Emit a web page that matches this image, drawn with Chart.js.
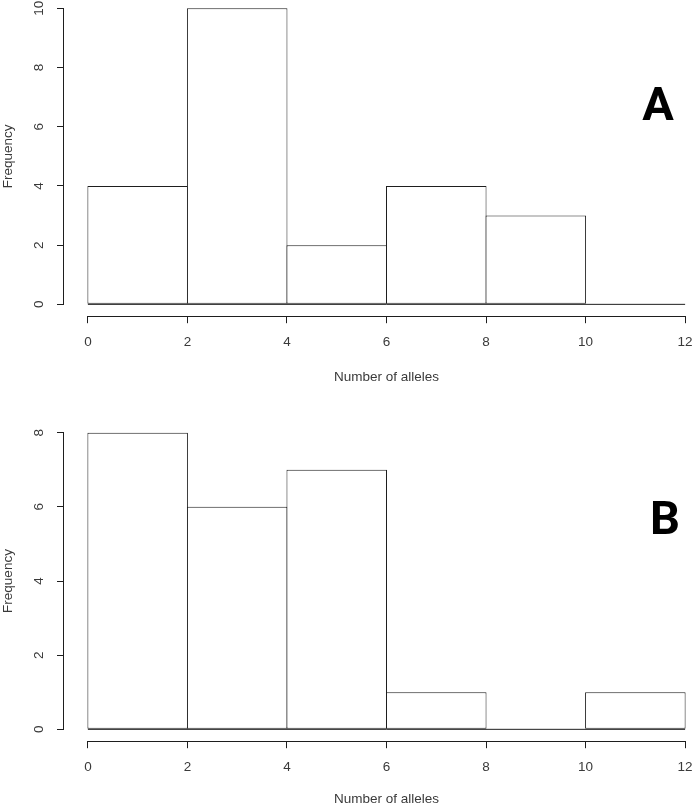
<!DOCTYPE html>
<html>
<head>
<meta charset="utf-8">
<script src="https://cdn.jsdelivr.net/npm/chart.js@4.4.0/dist/chart.umd.min.js"></script>
<style>
  html, body { margin: 0; padding: 0; background: #fff; overflow: hidden; width: 693px; height: 807px; }
  canvas { position: absolute; left: 0; }
  #hist-a { top: -25px; }
  #hist-b { top: 390px; }
</style>
</head>
<body>
<canvas id="hist-a" width="740" height="420"></canvas>
<canvas id="hist-b" width="740" height="420"></canvas>
<script>
// bins shared by both panels
const binEdges = [0, 2, 4, 6, 8, 10, 12];
const xTicks = [0, 2, 4, 6, 8, 10, 12];

// panel A
const countsA = [4, 10, 2, 4, 3, 0];
const yTicksA = [0, 2, 4, 6, 8, 10];

// panel B
const countsB = [8, 6, 7, 1, 0, 1];
const yTicksB = [0, 2, 4, 6, 8];

const xLabel = 'Number of alleles';
const yLabel = 'Frequency';

const LINE = '#1e1e1e';
const TEXT = '#3a3a3a';
const FONT = "'Liberation Sans', Arial, sans-serif";

// R draws its axis lines only from the first to the last tick
const rAxes = {
  id: 'rAxes',
  afterDatasetsDraw(chart) {
    const { ctx, chartArea, scales: { x, y } } = chart;
    const xa = x.getPixelForValue(x.ticks[0].value);
    const xb = x.getPixelForValue(x.ticks[x.ticks.length - 1].value);
    const ya = y.getPixelForValue(y.ticks[0].value);
    const yb = y.getPixelForValue(y.ticks[y.ticks.length - 1].value);
    const bx = Math.round(chartArea.bottom) + 0.5;
    const ly = Math.round(chartArea.left) - 0.5;
    ctx.save();
    ctx.strokeStyle = LINE;
    ctx.lineWidth = 1;
    ctx.beginPath();
    ctx.moveTo(Math.round(xa - 0.5), bx);
    ctx.lineTo(Math.round(xb - 0.5) + 1, bx);
    ctx.moveTo(ly, Math.round(ya - 0.5) + 1);
    ctx.lineTo(ly, Math.round(yb - 0.5));
    ctx.stroke();
    ctx.restore();
  }
};

const panelLetter = {
  id: 'panelLetter',
  afterDraw(chart, args, opts) {
    const { ctx } = chart;
    ctx.save();
    ctx.font = "bold 47px Roboto, 'Liberation Sans', sans-serif";
    ctx.fillStyle = '#000';
    ctx.textAlign = 'center';
    ctx.textBaseline = 'alphabetic';
    ctx.fillText(opts.text, opts.x, opts.y);
    ctx.restore();
  }
};

function makeHist(id, counts, yTicks, cfg) {
  const mids = binEdges.slice(0, -1).map((e, i) => (e + binEdges[i + 1]) / 2);
  const xMin = xTicks[0], xMax = xTicks[xTicks.length - 1];
  const yMin = yTicks[0], yMax = yTicks[yTicks.length - 1];
  const xPad = (xMax - xMin) * 0.04;
  const yPad = (yMax - yMin) * 0.04;

  return new Chart(document.getElementById(id), {
    data: {
      datasets: [
        {
          type: 'bar',
          data: counts.map((c, i) => ({ x: mids[i], y: c })),
          backgroundColor: '#fff',
          borderColor: LINE,
          borderWidth: 1,
          borderSkipped: false,
          inflateAmount: 0,
          barPercentage: 1.01,
          categoryPercentage: 1,
          order: 1
        },
        {
          // baseline under the bins (also shows empty bins)
          type: 'line',
          data: [{ x: binEdges[0], y: 0 }, { x: binEdges[binEdges.length - 1], y: 0 }],
          borderColor: LINE,
          borderWidth: 1,
          pointRadius: 0,
          order: 2
        }
      ]
    },
    options: {
      responsive: false,
      animation: false,
      devicePixelRatio: 1,
      layout: { padding: { top: cfg.top, left: 0, right: 31, bottom: 0 } },
      plugins: {
        legend: { display: false },
        tooltip: { enabled: false },
        panelLetter: cfg.letter
      },
      scales: {
        x: {
          type: 'linear',
          offset: false,
          min: xMin - xPad,
          max: xMax + xPad,
          afterBuildTicks: s => { s.ticks = xTicks.map(v => ({ value: v })); },
          afterFit: s => { s.height = cfg.xHeight; },
          border: { display: false },
          grid: { offset: false, drawOnChartArea: false, drawTicks: true, tickLength: 7, color: LINE, lineWidth: 1 },
          ticks: { autoSkip: false, maxRotation: 0, padding: 11, color: TEXT, font: { family: FONT, size: 13.5 } },
          title: { display: true, text: xLabel, color: TEXT, font: { family: FONT, size: 13.5 }, padding: { top: 0, bottom: cfg.titlePad } }
        },
        y: {
          type: 'linear',
          min: yMin - yPad,
          max: yMax + yPad,
          afterBuildTicks: s => { s.ticks = yTicks.map(v => ({ value: v })); },
          afterFit: s => { s.width = 64; },
          border: { display: false },
          grid: { drawOnChartArea: false, drawTicks: true, tickLength: 7, color: LINE, lineWidth: 1 },
          ticks: { autoSkip: false, minRotation: 90, maxRotation: 90, crossAlign: 'center', padding: cfg.yTickPad, color: TEXT, font: { family: FONT, size: 13.5 } },
          title: { display: true, text: yLabel, color: TEXT, font: { family: FONT, size: 13.5 }, padding: { top: 0, bottom: 0 } }
        }
      }
    },
    plugins: [rAxes, panelLetter]
  });
}

makeHist('hist-a', countsA, yTicksA, {
  top: 21.45, xHeight: 78.8, titlePad: 9.9, yTickPad: 10.5,
  letter: { text: 'A', x: 658, y: 144.5 }
});

makeHist('hist-b', countsB, yTicksB, {
  top: 30.8, xHeight: 68.8, titlePad: 2.9, yTickPad: 14.25,
  letter: { text: 'B', x: 665, y: 144 }
});
</script>
</body>
</html>
